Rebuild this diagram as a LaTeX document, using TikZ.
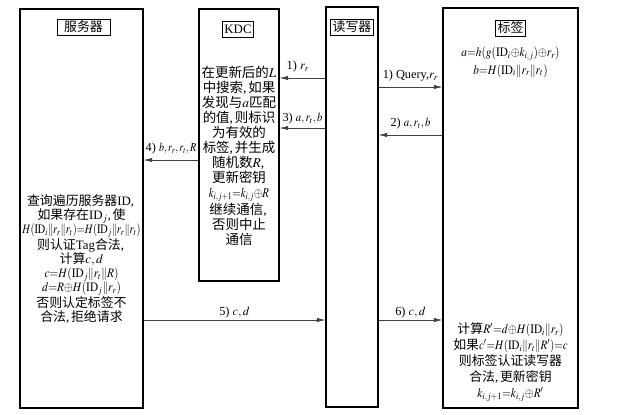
\documentclass[tikz,border=0pt]{standalone}
\usepackage{mathptmx}
\usepackage[no-math]{fontspec}
\usepackage{graphicx}
\setmainfont{Liberation Serif}
\newfontfamily\cjk{Noto Sans CJK SC}
\usetikzlibrary{arrows.meta,positioning}
% switch to the CJK family for ideographs
\XeTeXinterchartokenstate=1
\newXeTeXintercharclass\CJKclass
\newcount\cjkcnt
\cjkcnt="4E00
\loop
  \XeTeXcharclass\cjkcnt=\CJKclass
  \ifnum\cjkcnt<"9FFF \advance\cjkcnt by 1 \repeat
\XeTeXinterchartoks 0 \CJKclass={\begingroup\cjk}
\XeTeXinterchartoks 4095 \CJKclass={\begingroup\cjk}
\XeTeXinterchartoks \CJKclass 0={\endgroup}
\XeTeXinterchartoks \CJKclass 4095={\endgroup}
\tikzset{
  entity/.style={
    draw=black,
    line width=0.9pt,
    inner sep=0pt
  },
  titlebox/.style={
    draw=black,
    line width=0.8pt,
    inner xsep=2pt,
    inner ysep=0pt,
    minimum height=0.48cm,
    font=\fontsize{11}{12}\selectfont
  },
  info/.style={
    align=center,
    inner sep=0pt,
    font=\fontsize{11.5}{12.8}\selectfont
  },
  msg/.style={
    -{Latex[length=2.6mm,width=1.3mm]},
    line width=0.55pt,
    draw=black!75
  },
  lbl/.style={
    above,
    inner sep=1pt,
    font=\fontsize{10.5}{11}\selectfont
  }
}
\newcommand{\xorsum}{\oplus}
\newcommand{\cc}{,\kern1.5pt}
\newcommand{\nm}[2][0.88]{\scalebox{#1}[1]{$#2$}}

\begin{document}
\begin{tikzpicture}[x=0.03cm,y=-0.03cm]
\useasboundingbox (0,0) rectangle (619,414);
% the four parties
\node[entity, minimum width=3.69cm, minimum height=11.97cm] (server) at (81.5,208.5) {};
\node[entity, minimum width=2.4cm, minimum height=8.16cm] (kdc) at (239,145) {};
\node[entity, minimum width=1.56cm, minimum height=12cm] (reader) at (352,207) {};
\node[entity, minimum width=4.05cm, minimum height=12cm] (tag) at (510.5,208) {};

\node[titlebox, minimum width=1.59cm] (servertitle) at (83.5,27) {服务器};
\node[titlebox] (kdctitle) at (238,29) {KDC};
\node[titlebox] (readertitle) at (352,27) {读写器};
\node[titlebox] (tagtitle) at (510.5,28) {标签};

% what each party computes
\node[info, font=\fontsize{11}{15}\selectfont] (tagcalc) at (510.5,62)
  {\nm{a{=}h(g(\mathrm{ID}_i{\xorsum}k_{i,j}){\xorsum}r_r)}\\\nm{b{=}H(\mathrm{ID}_i\|r_r\|r_t)}};
\node[info] (kdccalc) at (239,156)
  {在更新后的$L$\\中搜索\cc 如果\\发现与$a$匹配\\的值\cc 则标识\\为有效的\\标签\cc 并生成\\随机数$R$\cc\\更新密钥\\\nm[0.8]{k_{i,j+1}{=}k_{i,j}{\xorsum}R}\\继续通信\cc\\否则中止\\通信};
\node[info, font=\fontsize{11}{12}\selectfont] (servercalc) at (81.5,259)
  {查询遍历服务器ID\cc\\如果存在ID$_j$\cc 使\\\nm[0.8]{H(\mathrm{ID}_i\|r_r\|r_t){=}H(\mathrm{ID}_j\|r_r\|r_t)}\\则认证Tag合法\cc\\计算$c,d$\\\nm{c{=}H(\mathrm{ID}_j\|r_t\|R)}\\\nm{d{=}R{\xorsum}H(\mathrm{ID}_j\|r_r)}\\否则认定标签不\\合法\cc 拒绝请求};
\node[info, font=\fontsize{11}{13.6}\selectfont] (tagcheck) at (510.5,362)
  {计算\nm{R'{=}d{\xorsum}H(\mathrm{ID}_i\|r_r)}\\如果\nm[0.85]{c'{=}H(\mathrm{ID}_i\|r_t\|R'){=}c}\\则标签认证读写器\\合法\cc 更新密钥\\\nm{k_{i,j+1}{=}k_{i,j}{\xorsum}R'}};

% message rows
\coordinate (row1) at (0,78);
\coordinate (rowq) at (0,87);
\coordinate (row3) at (0,128);
\coordinate (row2) at (0,135);
\coordinate (row4) at (0,160);
\coordinate (row5) at (0,320);

\draw[msg] (reader.west |- row1) -- node[lbl, yshift=4pt, pos=0.6] {1) $r_r$} (kdc.east |- row1);
\draw[msg] (reader.east |- rowq) -- node[lbl, yshift=4pt] {1) Query,$r_r$} (tag.west |- rowq);
\draw[msg] (tag.west |- row2) -- node[lbl, yshift=4pt] {2) \nm{a,r_t,b}} (reader.east |- row2);
\draw[msg] (reader.west |- row3) -- node[lbl, yshift=2pt] {3) \nm{a,r_t,b}} (kdc.east |- row3);
\draw[msg] (kdc.west |- row4) -- node[lbl, yshift=4pt] {4) \nm[0.82]{b,r_r,r_t,R}} (server.east |- row4);
\draw[msg] (server.east |- row5) -- node[lbl] {5) $c,d$} (reader.west |- row5);
\draw[msg] (reader.east |- row5) -- node[lbl] {6) $c,d$} (tag.west |- row5);
\end{tikzpicture}
\end{document}
